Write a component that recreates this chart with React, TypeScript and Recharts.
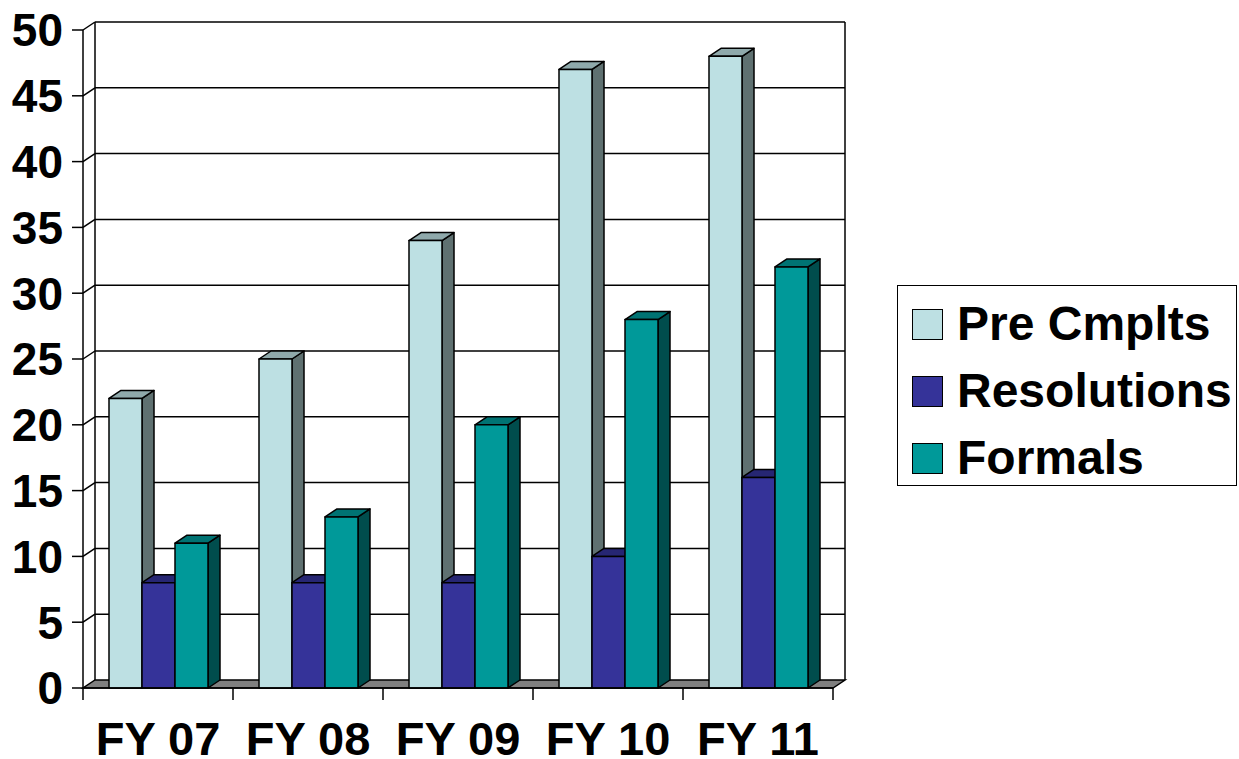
import React from 'react';
import { BarChart, Bar, XAxis, YAxis, CartesianGrid } from 'recharts';

const years = ['FY 07', 'FY 08', 'FY 09', 'FY 10', 'FY 11'];
const preCmplts = [22, 25, 34, 47, 48];
const resolutions = [8, 8, 8, 10, 16];
const formals = [11, 13, 20, 28, 32];
const yTicks = [0, 5, 10, 15, 20, 25, 30, 35, 40, 45, 50];

const data = years.map((name, i) => ({
    name,
    pre: preCmplts[i],
    res: resolutions[i],
    formals: formals[i],
}));

const FONT = '"Liberation Sans", Arial, sans-serif';
const DX = 12; // depth offset of the 3D look
const DY = 8;

const series = [
    { key: 'pre', label: 'Pre Cmplts', front: '#BDE0E3', top: '#8FA9AB', side: '#5F7171' },
    { key: 'res', label: 'Resolutions', front: '#353399', top: '#262673', side: '#1A1A4D' },
    { key: 'formals', label: 'Formals', front: '#009999', top: '#007373', side: '#004D4D' },
];

function Bar3D(props: any) {
    const { x, y, width: w, height: h, front, top, side } = props;
    if (h == null || w == null) return null;
    return (
        <g stroke="#000" strokeWidth={1.5} strokeLinejoin="round">
            <polygon points={`${x + w},${y} ${x + w + DX},${y - DY} ${x + w + DX},${y + h - DY} ${x + w},${y + h}`} fill={side} />
            <polygon points={`${x},${y} ${x + DX},${y - DY} ${x + w + DX},${y - DY} ${x + w},${y}`} fill={top} />
            <rect x={x} y={y} width={w} height={h} fill={front} />
        </g>
    );
}

// back wall lines, diagonals at the front axis and the grey floor
function WallLine(props: any) {
    const { x1, x2, y1, index } = props;
    const top = props.y ?? 30;
    const bottom = top + (props.height ?? 658);
    const isFloor = Math.abs(y1 - bottom) < 0.5;
    return (
        <g key={`wall-${index}`} stroke="#000" strokeWidth={1.5} fill="none">
            {isFloor ? (
                <>
                    <line x1={x1 + DX} y1={top - DY} x2={x1 + DX} y2={bottom - DY} />
                    <line x1={x2 + DX} y1={top - DY} x2={x2 + DX} y2={bottom - DY} />
                    <polygon
                        points={`${x1},${y1} ${x2},${y1} ${x2 + DX},${y1 - DY} ${x1 + DX},${y1 - DY}`}
                        fill="#808080"
                    />
                </>
            ) : (
                <>
                    <line x1={x1} y1={y1} x2={x1 + DX} y2={y1 - DY} />
                    <line x1={x1 + DX} y1={y1 - DY} x2={x2 + DX} y2={y1 - DY} />
                </>
            )}
        </g>
    );
}

function XTick(props: any) {
    const { x, y, payload, index } = props;
    const half = 75;
    return (
        <g>
            <line x1={x - half} y1={y} x2={x - half} y2={y + 12} stroke="#000" strokeWidth={1.5} />
            {index === years.length - 1 && (
                <line x1={x + half} y1={y} x2={x + half} y2={y + 12} stroke="#000" strokeWidth={1.5} />
            )}
            <text x={x} y={y + 67} textAnchor="middle" fontFamily={FONT} fontWeight="bold" fontSize={47} fill="#000">
                {payload.value}
            </text>
        </g>
    );
}

function LegendBox() {
    return (
        <div
            style={{
                position: 'absolute',
                left: 897,
                top: 285,
                width: 338,
                height: 199,
                border: '1.5px solid #000',
                background: '#fff',
                fontFamily: FONT,
                fontWeight: 'bold',
                fontSize: 48,
                color: '#000',
            }}
        >
            {series.map((s, i) => (
                <div
                    key={s.key}
                    style={{ position: 'absolute', left: 14, top: 38 + i * 67 - 25, height: 50, display: 'flex', alignItems: 'center' }}
                >
                    <span style={{ display: 'inline-block', width: 29, height: 29, background: s.front, border: '1.5px solid #000', marginRight: 14 }} />
                    <span style={{ lineHeight: '50px', whiteSpace: 'nowrap' }}>{s.label}</span>
                </div>
            ))}
        </div>
    );
}

export default function App() {
    return (
        <div style={{ position: 'relative', width: 1239, height: 759, background: '#fff' }}>
            <style>{`body{margin:0;background:#fff}`}</style>
            <BarChart
                width={1239}
                height={759}
                data={data}
                margin={{ top: 30, right: 406, bottom: 11, left: 13 }}
                barGap={0}
                barSize={33}
            >
                <CartesianGrid horizontal={(p: any) => <WallLine {...p} />} vertical={false} />
                <XAxis
                    dataKey="name"
                    height={60}
                    tickSize={0}
                    tickMargin={0}
                    tick={<XTick />}
                    axisLine={{ stroke: '#000', strokeWidth: 1.5 }}
                    interval={0}
                />
                <YAxis
                    width={70}
                    domain={[0, 50]}
                    ticks={yTicks}
                    interval={0}
                    tickSize={11}
                    tickMargin={9}
                    tickLine={{ stroke: '#000', strokeWidth: 1.5 }}
                    axisLine={{ stroke: '#000', strokeWidth: 1.5 }}
                    tick={{ fontFamily: FONT, fontWeight: 'bold', fontSize: 46, fill: '#000' }}
                />
                {series.map((s) => (
                    <Bar
                        key={s.key}
                        dataKey={s.key}
                        name={s.label}
                        fill={s.front}
                        isAnimationActive={false}
                        shape={(p: any) => <Bar3D {...p} front={s.front} top={s.top} side={s.side} />}
                    />
                ))}
            </BarChart>
            <LegendBox />
        </div>
    );
}
